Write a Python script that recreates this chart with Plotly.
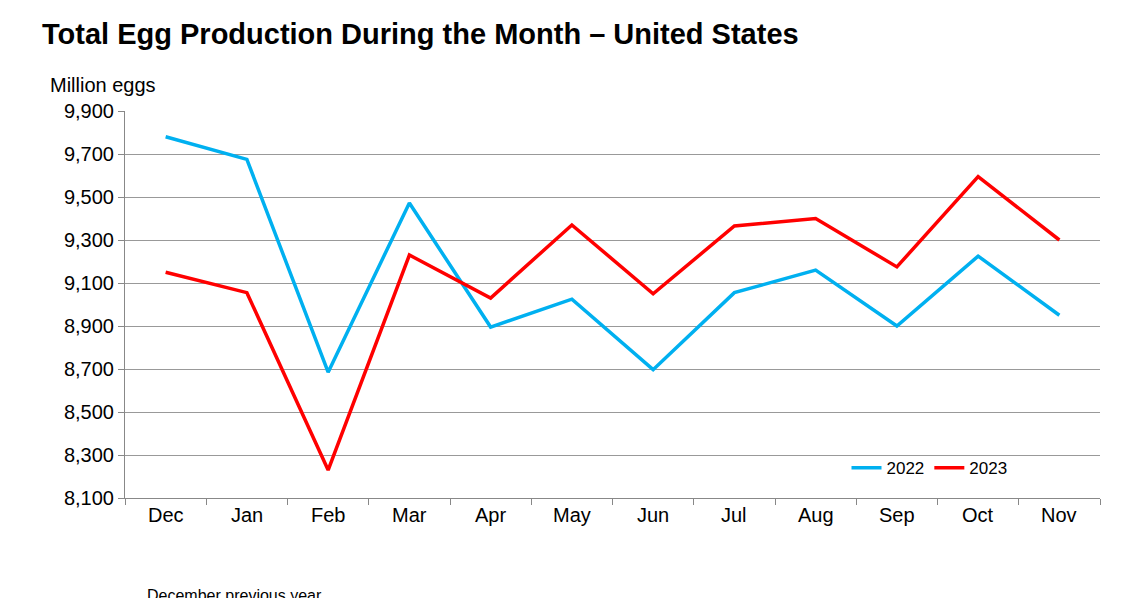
import plotly.graph_objects as go

months = ["Dec","Jan","Feb","Mar","Apr","May","Jun","Jul","Aug","Sep","Oct","Nov"]
y2022 = [9780,9675,8685,9472,8895,9025,8697,9055,9160,8900,9225,8950]
y2023 = [9150,9055,8230,9230,9030,9370,9050,9365,9400,9175,9595,9300]
ticks = list(range(8100, 9901, 200))

W, H = 1118, 590
L, T, R, B = 117, 103, 26, 100
pw, ph = W - L - R, H - T - B

fig = go.Figure()
fig.add_trace(go.Scatter(x=months, y=y2022, name="2022", mode="lines", line=dict(color="#00B0F0", width=3.5)))
fig.add_trace(go.Scatter(x=months, y=y2023, name="2023", mode="lines", line=dict(color="#FF0000", width=3.5)))
fig.update_layout(
    width=W, height=H, paper_bgcolor="white", plot_bgcolor="white",
    margin=dict(l=L, r=R, t=T, b=B),
    font=dict(family="Liberation Sans, Arial", color="black", size=20),
    title=dict(text="<b>Total Egg Production During the Month – United States</b>", x=34/W, xanchor="left", y=1-26/H, yanchor="middle", font=dict(size=29)),
    xaxis=dict(range=[-0.5, 11.5], showline=True, linecolor="#888", ticks="outside", tickcolor="#888", ticklen=6,
               tickvals=[i-0.5 for i in range(13)], ticktext=[""]*13, showgrid=False),
    yaxis=dict(range=[8100, 9900], tickvals=ticks, tickformat=",", showgrid=True, gridcolor="#999", gridwidth=1,
               showline=True, linecolor="#888", ticks="outside", tickcolor="#888", ticklen=6, tickfont=dict(size=20)),
    legend=dict(orientation="h", x=0.74, y=0.077, xanchor="left", yanchor="middle", font=dict(size=17), bgcolor="rgba(0,0,0,0)"),
    showlegend=True,
)
for i, m in enumerate(months):
    fig.add_annotation(x=i, y=0, xref="x", yref="paper", yshift=-30, text=m, showarrow=False, font=dict(size=20))
fig.add_annotation(xref="paper", yref="paper", x=(40-L)/pw, y=(T+ph-77)/ph, text="Million eggs", showarrow=False, xanchor="left", yanchor="middle", font=dict(size=20))
fig.add_annotation(xref="paper", yref="paper", x=(137-L)/pw, y=(T+ph-587)/ph, text="December previous year", showarrow=False, xanchor="left", yanchor="middle", font=dict(size=16))
fig.write_html("out.html")
